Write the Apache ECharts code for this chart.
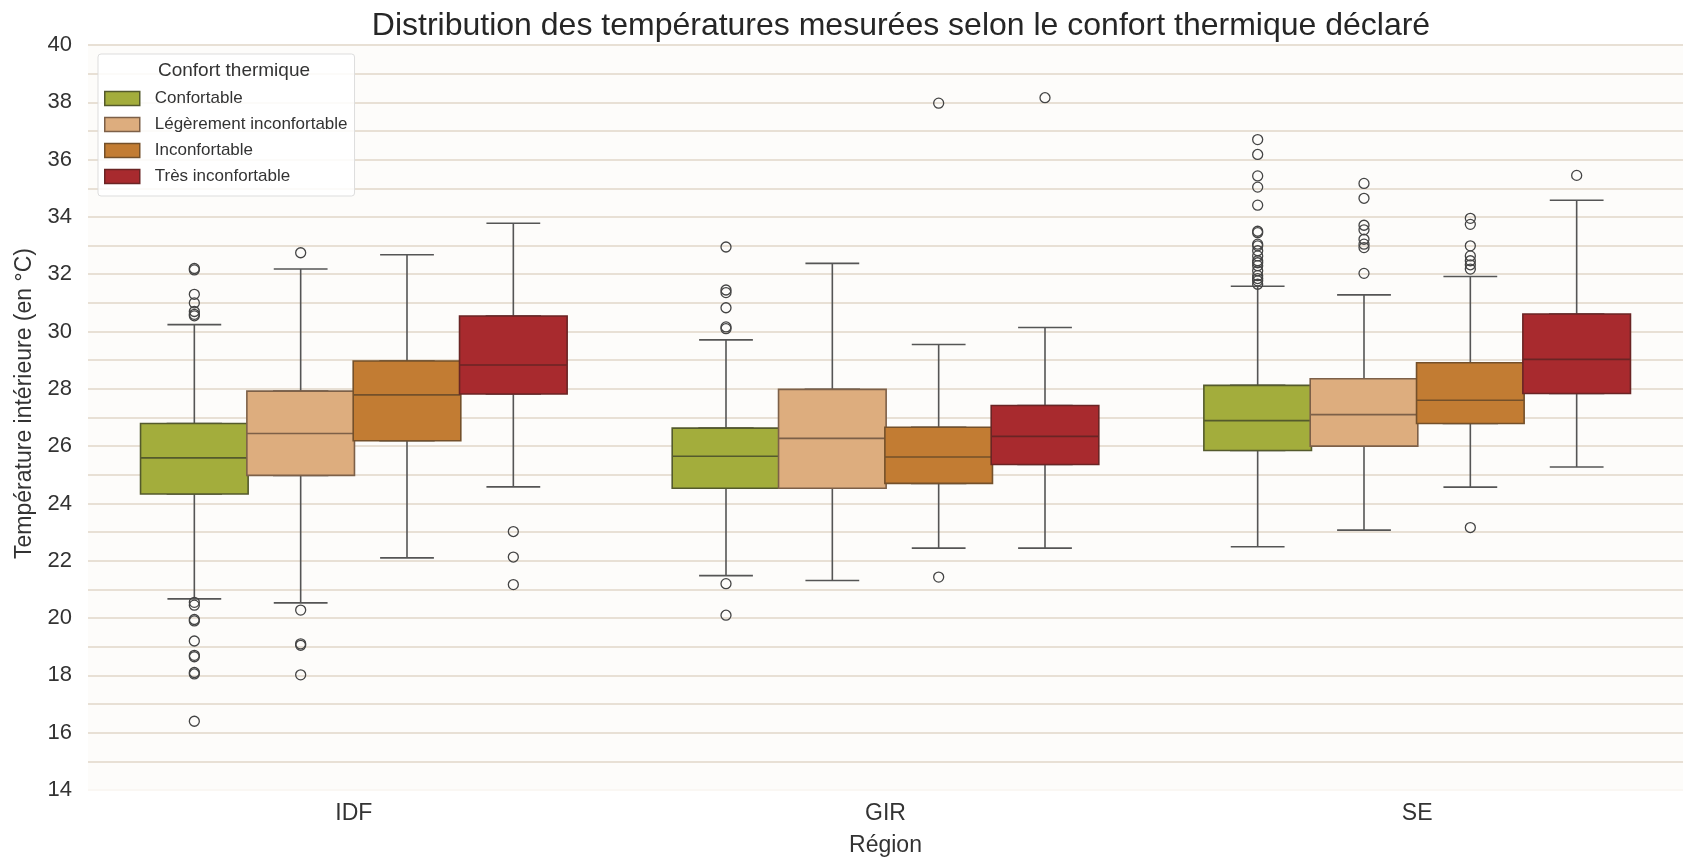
<!DOCTYPE html>
<html>
<head>
<meta charset="utf-8">
<script src="https://cdn.jsdelivr.net/npm/echarts@6/dist/echarts.min.js"></script>
<style>
html, body { margin: 0; padding: 0; background: #ffffff; }
#main { width: 1683px; height: 862px; }
</style>
</head>
<body>
<div id="main"></div>
<script>
var regions = ['IDF', 'GIR', 'SE'];
var hues = ['Confortable', 'Légèrement inconfortable', 'Inconfortable', 'Très inconfortable'];
var hueColors = ['#a3ad3c', '#ddad7e', '#c27c33', '#a82a2e'];
var edgeColors = ['#545a2c', '#7d6048', '#74502a', '#6a2424'];

// one row per hue, one value per region (IDF, GIR, SE)
var whiskerLow = [[20.67, 21.48, 22.49], [20.53, 21.31, 23.07], [22.10, 22.44, 24.57], [24.58, 22.44, 25.27]];
var q1 = [[24.33, 24.53, 25.85], [24.98, 24.53, 26.00], [26.19, 24.70, 26.79], [27.82, 25.36, 27.84]];
var median = [[25.59, 25.65, 26.89], [26.44, 26.27, 27.10], [27.79, 25.62, 27.60], [28.83, 26.34, 29.03]];
var q3 = [[26.79, 26.63, 28.12], [27.92, 27.98, 28.35], [28.97, 26.66, 28.91], [30.54, 27.42, 30.61]];
var whiskerHigh = [[30.24, 29.71, 31.58], [32.18, 32.38, 31.28], [32.68, 29.55, 31.92], [33.78, 30.14, 34.58]];

var outliers = [
    [
        [32.2, 32.15, 31.3, 31.0, 30.7, 30.6, 30.55, 20.55, 20.45, 19.95, 19.9, 19.2, 18.7, 18.65, 18.1, 18.05, 16.4],
        [32.95, 31.45, 31.36, 30.83, 30.16, 30.1, 21.2, 20.1],
        [36.7, 36.18, 35.43, 35.04, 34.41, 33.5, 33.45, 33.05, 32.99, 32.82, 32.64, 32.47, 32.4, 32.3, 32.12, 31.95, 31.85, 31.77, 31.65]
    ],
    [
        [32.75, 20.28, 19.1, 19.05, 18.02],
        [],
        [35.17, 34.65, 33.71, 33.55, 33.22, 33.05, 32.93, 32.03]
    ],
    [
        [],
        [37.97, 21.43],
        [33.95, 33.74, 32.99, 32.64, 32.47, 32.33, 32.18, 23.16]
    ],
    [
        [23.02, 22.13, 21.17],
        [38.16],
        [35.45]
    ]
];

var yTicks = [14, 40, 2];

var dom = document.getElementById('main');
var myChart = echarts.init(dom);

var boxW = 1614 / 15;   // one slot per hue, 5 slots per region
function xPos(r, h) { return 5 * r + 1 + h; }

var xAxes = [{
    type: 'category',
    data: regions,
    gridIndex: 0,
    boundaryGap: true,
    axisLine: { show: false },
    axisTick: { show: false },
    axisLabel: { fontSize: 23, color: '#333', margin: 12, fontFamily: 'Liberation Sans' },
    name: 'Région',
    nameLocation: 'middle',
    nameGap: 44,
    nameTextStyle: { fontSize: 23, color: '#333', fontFamily: 'Liberation Sans' }
}];
for (var k = 0; k < 5; k++) {
    xAxes.push({ type: 'value', min: 0, max: 15, show: false, gridIndex: 0 });
}

var series = [];
var whiskerData = [];
var outlierData = [];
var legendData = [];
hues.forEach(function (name, h) {
    var boxData = [];
    regions.forEach(function (reg, r) {
        boxData.push([xPos(r, h), q1[h][r], q1[h][r], median[h][r], q3[h][r], q3[h][r]]);
        whiskerData.push([xPos(r, h), whiskerLow[h][r], q1[h][r], median[h][r], q3[h][r], whiskerHigh[h][r]]);
        outliers[h][r].forEach(function (v) { outlierData.push([xPos(r, h), v]); });
    });
    legendData.push({
        name: name,
        itemStyle: { color: hueColors[h], borderColor: edgeColors[h], borderWidth: 1.5 }
    });
    series.push({
        name: name,
        type: 'boxplot',
        xAxisIndex: h + 1,
        boxWidth: [boxW, boxW],
        z: 3,
        itemStyle: { color: hueColors[h], borderColor: edgeColors[h], borderWidth: 1.6 },
        emphasis: { disabled: true },
        data: boxData
    });
});
series.push({
    name: 'whiskers',
    type: 'boxplot',
    xAxisIndex: 5,
    boxWidth: [boxW / 2, boxW / 2],
    z: 2,
    itemStyle: { color: 'rgba(0,0,0,0)', borderColor: '#555', borderWidth: 1.6 },
    emphasis: { disabled: true },
    data: whiskerData
});
series.push({
    name: 'outliers',
    type: 'scatter',
    xAxisIndex: 5,
    symbol: 'circle',
    symbolSize: 10,
    z: 4,
    itemStyle: { color: 'rgba(255,255,255,0)', borderColor: '#444', borderWidth: 1.3, opacity: 1 },
    emphasis: { disabled: true },
    data: outlierData
});

var majorColors = ['#faf7f3'];
for (var t = yTicks[0] + yTicks[2]; t <= yTicks[1]; t += yTicks[2]) majorColors.push('#e8e0d5');

option = {
    backgroundColor: '#ffffff',
    animation: false,
    title: [{
        text: 'Distribution des températures mesurées selon le confort thermique déclaré',
        left: 896,
        top: 5,
        textAlign: 'center',
        textStyle: { fontSize: 32, fontWeight: 'normal', color: '#262626', fontFamily: 'Liberation Sans' }
    }, {
        text: 'Confort thermique',
        left: 229,
        top: 56,
        textAlign: 'center',
        textStyle: { fontSize: 19, fontWeight: 'normal', color: '#333', fontFamily: 'Liberation Sans' }
    }],
    legend: {
        data: legendData,
        orient: 'vertical',
        left: 98,
        top: 54,
        padding: [36, 7, 11, 6],
        itemWidth: 35,
        itemHeight: 14,
        itemGap: 9,
        icon: 'rect',
        backgroundColor: 'rgba(255,255,255,0.85)',
        borderColor: '#dddddd',
        borderWidth: 1,
        borderRadius: 3,
        textStyle: { fontSize: 17, lineHeight: 14, color: '#333', fontFamily: 'Liberation Sans', padding: [0, 0, 0, 10] }
    },
    grid: {
        left: 88,
        top: 45,
        width: 1614,
        height: 749,
        show: true,
        backgroundColor: '#fdfcfa',
        borderWidth: 0
    },
    xAxis: xAxes,
    yAxis: {
        type: 'value',
        min: yTicks[0],
        max: yTicks[1],
        interval: yTicks[2],
        axisLine: { show: false },
        axisTick: { show: false },
        axisLabel: { fontSize: 22, color: '#333', margin: 16, fontFamily: 'Liberation Sans' },
        splitLine: { show: true, lineStyle: { color: majorColors, width: 2 } },
        minorTick: { show: false, splitNumber: 2 },
        minorSplitLine: { show: true, lineStyle: { color: '#e8e0d5', width: 2 } },
        name: 'Température intérieure (en °C)',
        nameLocation: 'middle',
        nameGap: 50,
        nameTextStyle: { fontSize: 23, color: '#333', fontFamily: 'Liberation Sans', padding: [0, 0, 0, 28] }
    },
    series: series
};

if (option && typeof option === "object") {
    myChart.setOption(option, true);
}
</script>
</body>
</html>
